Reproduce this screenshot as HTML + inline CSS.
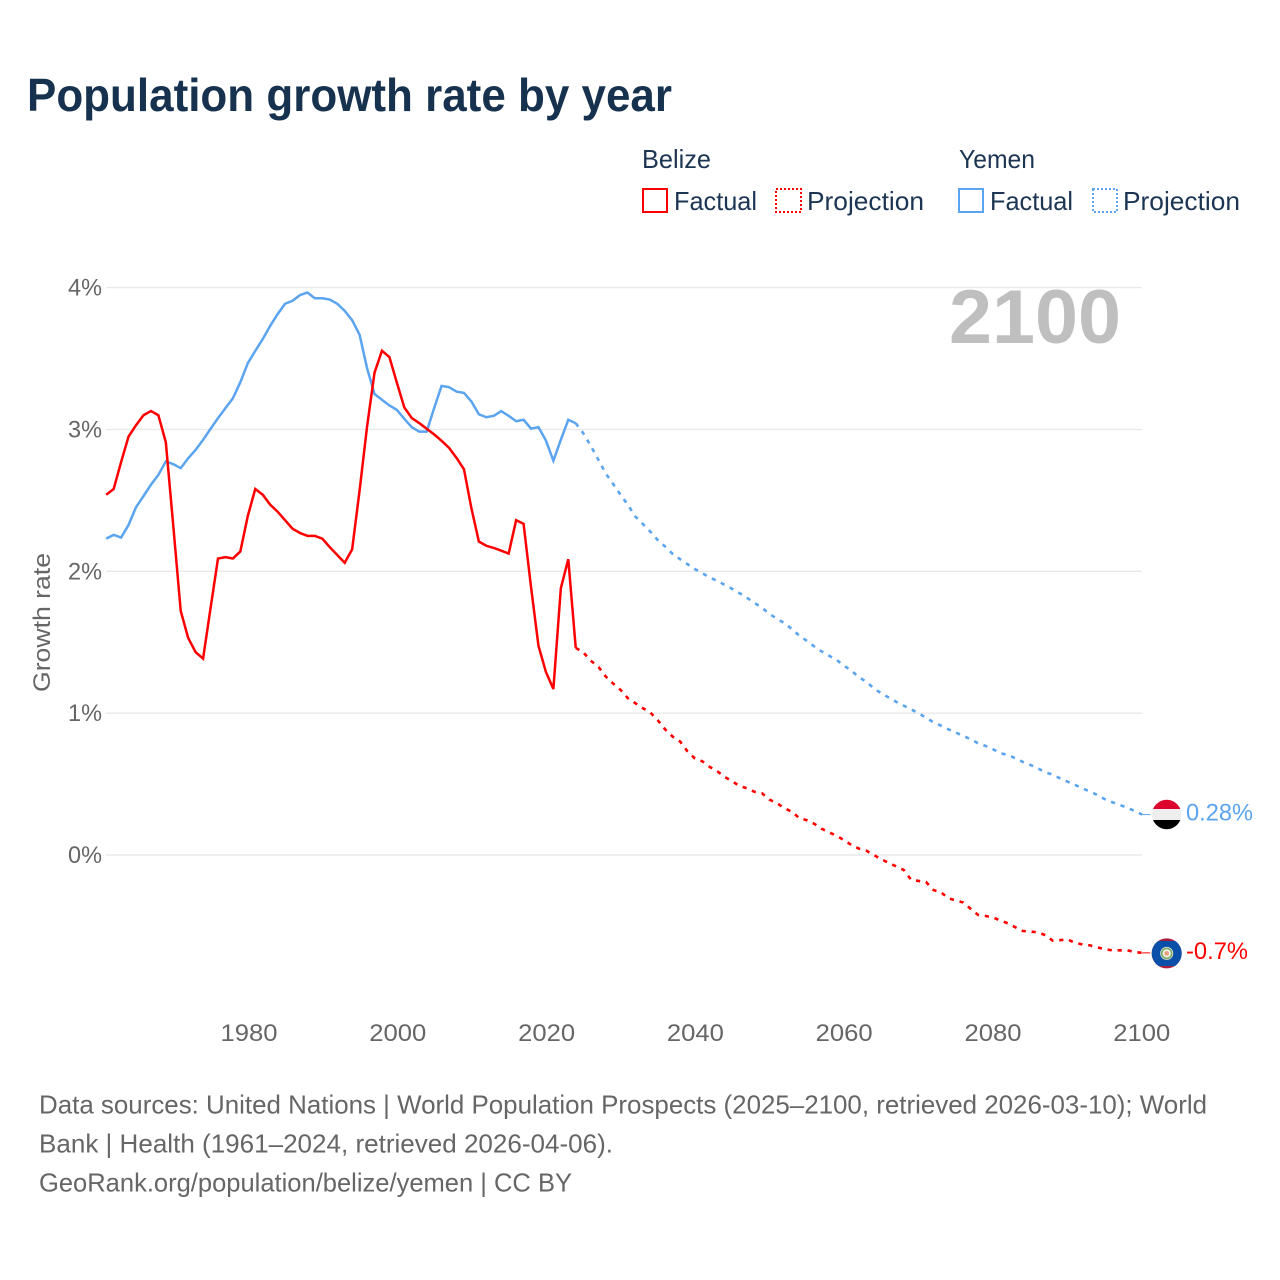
<!DOCTYPE html>
<html lang="en">
<head>
<meta charset="utf-8">
<title>Population growth rate by year</title>
<style>
html,body{margin:0;padding:0;background:#fff;}
#chart{display:block;width:1280px;height:1280px;font-family:"Liberation Sans",sans-serif;}
</style>
</head>
<body>
<svg id="chart" xmlns="http://www.w3.org/2000/svg" width="1280" height="1280" viewBox="0 0 1280 1280">
  <defs>
    <clipPath id="clip-yemen"><circle cx="1166.7" cy="814.5" r="14.7"/></clipPath>
    <clipPath id="clip-belize"><circle cx="1166.7" cy="953.4" r="15"/></clipPath>
  </defs>
  <rect width="1280" height="1280" fill="#fff"/>

  <text x="27" y="111" font-size="46" font-weight="700" fill="#17324f" textLength="645" lengthAdjust="spacingAndGlyphs">Population growth rate by year</text>

  <g font-size="26" fill="#1c3553">
    <text x="642" y="168" textLength="69" lengthAdjust="spacingAndGlyphs">Belize</text>
    <rect x="643" y="189" width="24" height="23" fill="none" stroke="#ff0000" stroke-width="2"/>
    <text x="674" y="210" textLength="83" lengthAdjust="spacingAndGlyphs">Factual</text>
    <rect x="776" y="189" width="25" height="23" fill="none" stroke="#ff0000" stroke-width="2" stroke-dasharray="2 2"/>
    <text x="807" y="210" textLength="117" lengthAdjust="spacingAndGlyphs">Projection</text>
    <text x="959" y="168" textLength="76" lengthAdjust="spacingAndGlyphs">Yemen</text>
    <rect x="959" y="189" width="24" height="23" fill="none" stroke="#5ba4ef" stroke-width="2"/>
    <text x="990" y="210" textLength="83" lengthAdjust="spacingAndGlyphs">Factual</text>
    <rect x="1093" y="189" width="24" height="23" fill="none" stroke="#5ba4ef" stroke-width="2" stroke-dasharray="2 2"/>
    <text x="1123" y="210" textLength="117" lengthAdjust="spacingAndGlyphs">Projection</text>
  </g>

  <g id="grid"></g>
  <g id="y-ticks"></g>
  <g id="x-ticks"></g>

  <text transform="translate(50 622.5) rotate(-90)" text-anchor="middle" font-size="24" fill="#666666" textLength="139" lengthAdjust="spacingAndGlyphs">Growth rate</text>

  <text x="949" y="343" font-size="76" font-weight="700" fill="#bfbfbf" textLength="172" lengthAdjust="spacingAndGlyphs">2100</text>

  <g id="series"></g>

  <g id="flag-yemen" clip-path="url(#clip-yemen)">
    <rect x="1150" y="798" width="34" height="11" fill="#dc042d"/>
    <rect x="1150" y="809" width="34" height="11" fill="#eeeeee"/>
    <rect x="1150" y="820" width="34" height="11" fill="#000000"/>
  </g>
  <g id="flag-belize" clip-path="url(#clip-belize)">
    <rect x="1150" y="936" width="34" height="36" fill="#a81c3c"/>
    <rect x="1150" y="941" width="34" height="25" fill="#0a4fa8"/>
    <circle cx="1166.7" cy="953.4" r="6.5" fill="#eef2ec"/>
    <circle cx="1166.7" cy="953.4" r="5" fill="none" stroke="#7aa85c" stroke-width="1.6"/>
    <circle cx="1166.7" cy="953.4" r="2.4" fill="#e8a080"/>
  </g>

  <g id="end-labels"></g>

  <g font-size="26" fill="#666666">
    <text x="39" y="1113.5" textLength="1168" lengthAdjust="spacingAndGlyphs">Data sources: United Nations | World Population Prospects (2025–2100, retrieved 2026-03-10); World</text>
    <text x="39" y="1152.5" textLength="574" lengthAdjust="spacingAndGlyphs">Bank | Health (1961–2024, retrieved 2026-04-06).</text>
    <text x="39" y="1191.5" textLength="533" lengthAdjust="spacingAndGlyphs">GeoRank.org/population/belize/yemen | CC BY</text>
  </g>
</svg>

<script>
var factualStartYear = 1961;
var projectionStartYear = 2024;

var belizeFactual = [2.54,2.58,2.77,2.95,3.03,3.10,3.13,3.10,2.91,2.32,1.72,1.53,1.43,1.385,1.74,2.09,2.10,2.09,2.14,2.39,2.58,2.54,2.47,2.42,2.36,2.30,2.27,2.25,2.25,2.23,2.17,2.115,2.06,2.155,2.57,3.02,3.40,3.555,3.51,3.33,3.155,3.08,3.045,3.005,2.965,2.92,2.87,2.80,2.72,2.445,2.21,2.18,2.165,2.145,2.125,2.36,2.335,1.89,1.475,1.29,1.17,1.88,2.085,1.46];

var belizeProjection = [1.46,1.43,1.37,1.33,1.26,1.21,1.165,1.105,1.07,1.035,1.005,0.95,0.885,0.835,0.80,0.73,0.68,0.66,0.62,0.59,0.55,0.52,0.485,0.47,0.445,0.435,0.39,0.365,0.33,0.305,0.26,0.245,0.22,0.185,0.16,0.135,0.105,0.07,0.045,0.03,0.0,-0.03,-0.056,-0.08,-0.105,-0.175,-0.183,-0.19,-0.247,-0.263,-0.305,-0.32,-0.335,-0.38,-0.423,-0.43,-0.44,-0.463,-0.482,-0.51,-0.536,-0.54,-0.545,-0.565,-0.604,-0.60,-0.595,-0.62,-0.63,-0.637,-0.651,-0.665,-0.672,-0.672,-0.672,-0.684,-0.69];

var yemenFactual = [2.23,2.257,2.238,2.327,2.452,2.53,2.61,2.68,2.775,2.755,2.727,2.797,2.856,2.927,3.004,3.08,3.15,3.22,3.333,3.467,3.554,3.637,3.73,3.813,3.886,3.907,3.947,3.965,3.925,3.925,3.916,3.886,3.836,3.77,3.667,3.432,3.25,3.209,3.169,3.138,3.075,3.016,2.985,2.985,3.15,3.307,3.298,3.267,3.258,3.197,3.107,3.086,3.096,3.129,3.096,3.058,3.068,3.006,3.016,2.922,2.78,2.927,3.068,3.044];

var yemenProjection = [3.044,2.974,2.886,2.79,2.692,2.617,2.54,2.468,2.386,2.334,2.28,2.22,2.174,2.123,2.085,2.05,2.015,1.986,1.956,1.932,1.904,1.876,1.845,1.812,1.777,1.742,1.70,1.665,1.635,1.593,1.546,1.51,1.47,1.435,1.405,1.375,1.335,1.298,1.254,1.22,1.175,1.14,1.11,1.08,1.053,1.027,0.999,0.968,0.935,0.912,0.886,0.863,0.839,0.816,0.787,0.769,0.745,0.717,0.705,0.682,0.656,0.635,0.611,0.583,0.566,0.54,0.517,0.494,0.47,0.446,0.423,0.393,0.372,0.353,0.334,0.31,0.285];

var yTickValues = [0,1,2,3,4];
var yTickLabels = ["0%","1%","2%","3%","4%"];
var xTickValues = [1980,2000,2020,2040,2060,2080,2100];
var xTickLabels = ["1980","2000","2020","2040","2060","2080","2100"];
var endLabelBelize = "-0.7%";
var endLabelYemen = "0.28%";

var SVG_NS = "http://www.w3.org/2000/svg";
var RED = "#ff0000";
var BLUE = "#5ba4ef";

function xScale(year) { return 106.2 + (year - 1961) * 7.453; }
function tickLabelX(year) { return 249 + (year - 1980) * 7.44; }
function yScale(value) { return 855 - value * 141.85; }

function pathFrom(values, startYear) {
  var d = "";
  for (var i = 0; i < values.length; i++) {
    d += (i === 0 ? "M" : "L") + xScale(startYear + i).toFixed(2) + " " + yScale(values[i]).toFixed(2);
  }
  return d;
}

var gridGroup = document.getElementById("grid");
var yTickGroup = document.getElementById("y-ticks");
yTickValues.forEach(function (v, i) {
  var line = document.createElementNS(SVG_NS, "line");
  line.setAttribute("x1", 106);
  line.setAttribute("x2", 1142);
  line.setAttribute("y1", yScale(v));
  line.setAttribute("y2", yScale(v));
  line.setAttribute("stroke", "#e9e9e9");
  line.setAttribute("stroke-width", "1.4");
  
  
  gridGroup.appendChild(line);

  var t = document.createElementNS(SVG_NS, "text");
  t.setAttribute("x", 68);
  t.setAttribute("y", yScale(v) + 8);
  t.setAttribute("font-size", "24");
  t.setAttribute("fill", "#666666");
  t.setAttribute("textLength", "34");
  t.setAttribute("lengthAdjust", "spacingAndGlyphs");
  t.textContent = yTickLabels[i];
  
  
  yTickGroup.appendChild(t);
});

var xTickGroup = document.getElementById("x-ticks");
xTickValues.forEach(function (v, i) {
  var t = document.createElementNS(SVG_NS, "text");
  t.setAttribute("x", tickLabelX(v) - 28.5);
  t.setAttribute("y", 1041);
  t.setAttribute("font-size", "24");
  t.setAttribute("fill", "#666666");
  t.setAttribute("textLength", "57");
  t.setAttribute("lengthAdjust", "spacingAndGlyphs");
  t.textContent = xTickLabels[i];
  
  
  xTickGroup.appendChild(t);
});

var seriesGroup = document.getElementById("series");

var belizeFactualLine = document.createElementNS(SVG_NS, "path");
belizeFactualLine.setAttribute("d", pathFrom(belizeFactual, factualStartYear));
belizeFactualLine.setAttribute("fill", "none");
belizeFactualLine.setAttribute("stroke", RED);
belizeFactualLine.setAttribute("stroke-width", "2.5");



var yemenFactualLine = document.createElementNS(SVG_NS, "path");
yemenFactualLine.setAttribute("d", pathFrom(yemenFactual, factualStartYear));
yemenFactualLine.setAttribute("fill", "none");
yemenFactualLine.setAttribute("stroke", BLUE);
yemenFactualLine.setAttribute("stroke-width", "2.5");



var belizeProjectionLine = document.createElementNS(SVG_NS, "path");
belizeProjectionLine.setAttribute("d", pathFrom(belizeProjection, projectionStartYear));
belizeProjectionLine.setAttribute("fill", "none");
belizeProjectionLine.setAttribute("stroke", RED);
belizeProjectionLine.setAttribute("stroke-width", "2.6");
belizeProjectionLine.setAttribute("stroke-dasharray", "4.2 5.8");



var yemenProjectionLine = document.createElementNS(SVG_NS, "path");
yemenProjectionLine.setAttribute("d", pathFrom(yemenProjection, projectionStartYear));
yemenProjectionLine.setAttribute("fill", "none");
yemenProjectionLine.setAttribute("stroke", BLUE);
yemenProjectionLine.setAttribute("stroke-width", "2.6");
yemenProjectionLine.setAttribute("stroke-dasharray", "4.2 5.8");



seriesGroup.appendChild(yemenProjectionLine);
seriesGroup.appendChild(belizeProjectionLine);
seriesGroup.appendChild(yemenFactualLine);
seriesGroup.appendChild(belizeFactualLine);

var lastYemen = yemenProjection[yemenProjection.length - 1];
var lastBelize = belizeProjection[belizeProjection.length - 1];

var yemenLeader = document.createElementNS(SVG_NS, "line");
yemenLeader.setAttribute("x1", xScale(2100));
yemenLeader.setAttribute("x2", xScale(2100) + 8);
yemenLeader.setAttribute("y1", yScale(lastYemen));
yemenLeader.setAttribute("y2", yScale(lastYemen));
yemenLeader.setAttribute("stroke", BLUE);
yemenLeader.setAttribute("stroke-width", "1");


seriesGroup.appendChild(yemenLeader);

var belizeLeader = document.createElementNS(SVG_NS, "line");
belizeLeader.setAttribute("x1", xScale(2100));
belizeLeader.setAttribute("x2", xScale(2100) + 8);
belizeLeader.setAttribute("y1", yScale(lastBelize));
belizeLeader.setAttribute("y2", yScale(lastBelize));
belizeLeader.setAttribute("stroke", RED);
belizeLeader.setAttribute("stroke-width", "1");


seriesGroup.appendChild(belizeLeader);

var labelGroup = document.getElementById("end-labels");

var yemenLabel = document.createElementNS(SVG_NS, "text");
yemenLabel.setAttribute("x", 1186);
yemenLabel.setAttribute("y", yScale(lastYemen) + 6);
yemenLabel.setAttribute("font-size", "24");
yemenLabel.setAttribute("fill", BLUE);
yemenLabel.setAttribute("textLength", "67");
yemenLabel.setAttribute("lengthAdjust", "spacingAndGlyphs");
yemenLabel.textContent = endLabelYemen;


labelGroup.appendChild(yemenLabel);

var belizeLabel = document.createElementNS(SVG_NS, "text");
belizeLabel.setAttribute("x", 1186);
belizeLabel.setAttribute("y", yScale(lastBelize) + 6);
belizeLabel.setAttribute("font-size", "24");
belizeLabel.setAttribute("fill", RED);
belizeLabel.setAttribute("textLength", "62");
belizeLabel.setAttribute("lengthAdjust", "spacingAndGlyphs");
belizeLabel.textContent = endLabelBelize;


labelGroup.appendChild(belizeLabel);
</script>
</body>
</html>
